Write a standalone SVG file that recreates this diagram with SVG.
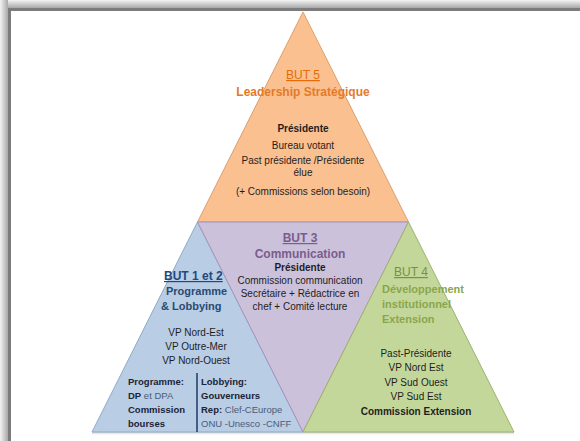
<svg xmlns="http://www.w3.org/2000/svg" width="580" height="441" viewBox="0 0 580 441">
<defs>
<linearGradient id="gTop" x1="0" y1="0" x2="0" y2="1"><stop offset="0" stop-color="#f4f4f4"/><stop offset="1" stop-color="#a8a8a8"/></linearGradient>
<linearGradient id="gLeft" x1="0" y1="0" x2="1" y2="0"><stop offset="0" stop-color="#f4f4f4"/><stop offset="1" stop-color="#a8a8a8"/></linearGradient>
<linearGradient id="gShadow" x1="0" y1="0" x2="0" y2="1"><stop offset="0" stop-color="#c8c8c8"/><stop offset="1" stop-color="#ffffff" stop-opacity="0"/></linearGradient>
</defs>
<style>
text{font-family:"Liberation Sans",Arial,sans-serif;text-anchor:middle}
.b{font-weight:bold}
.h{font-size:12px}
.t{font-size:10px;fill:#1e1e1e}
.s{font-size:9.5px}
.u{text-decoration:underline}
.st{text-anchor:start}
.tri{stroke-width:1;stroke-linejoin:round}
</style>
<rect x="0" y="0" width="580" height="441" fill="#ffffff"/>
<rect x="0" y="0" width="580" height="8" fill="url(#gTop)"/>
<rect x="0" y="0" width="8" height="441" fill="url(#gLeft)"/>
<rect x="8" y="8" width="572" height="3" fill="#7c7c7c"/>
<rect x="8" y="8" width="3" height="433" fill="#7c7c7c"/>
<rect x="92" y="432" width="422" height="4" fill="url(#gShadow)"/>

<g id="but5">
<polygon class="tri" points="303,12 197.5,222 408.5,222" fill="#FAC090" stroke="#D9A070"/>
<text x="303" y="79" class="h u" fill="#E46C0A">BUT 5</text>
<text x="303" y="96" class="h b" fill="#E47A28">Leadership Stratégique</text>
<text x="303" y="132" class="t b">Présidente</text>
<text x="303" y="149" class="t">Bureau votant</text>
<text x="303" y="164" class="t">Past présidente /Présidente</text>
<text x="303" y="176" class="t">élue</text>
<text x="303" y="195" class="t">(+ Commissions selon besoin)</text>
</g>

<g id="but12">
<polygon class="tri" points="197.5,222 92,432 303,432" fill="#B9CDE5" stroke="#8FA9C8"/>
<text x="164" y="280" class="h b u st" fill="#1F497D">BUT 1 et 2</text>
<text x="166" y="295" class="b st" font-size="11" fill="#2A4A72">Programme</text>
<text x="161" y="310" class="b st" font-size="11" fill="#2A4A72">&amp; Lobbying</text>
<text x="196" y="336" class="t" fill="#1F2D45">VP Nord-Est</text>
<text x="196" y="350" class="t" fill="#1F2D45">VP Outre-Mer</text>
<text x="196" y="364" class="t" fill="#1F2D45">VP Nord-Ouest</text>
<line x1="197" y1="373" x2="197" y2="432" stroke="#1F3864" stroke-width="1.5"/>
<text x="128" y="385" class="s b st" fill="#1A2436">Programme:</text>
<text x="128" y="399" class="s st" fill="#4A5C78"><tspan class="b" fill="#1A2436">DP</tspan> et DPA</text>
<text x="128" y="413" class="s b st" fill="#1A2436">Commission</text>
<text x="128" y="427" class="s b st" fill="#1A2436">bourses</text>
<text x="201" y="385" class="s b st" fill="#1A2436">Lobbying:</text>
<text x="201" y="399" class="s b st" fill="#1A2436">Gouverneurs</text>
<text x="201" y="413" class="s st" fill="#4A5C78"><tspan class="b" fill="#1A2436">Rep:</tspan> Clef-CEurope</text>
<text x="201" y="427" class="s st" fill="#4A5C78">ONU -Unesco -CNFF</text>
</g>

<g id="but3">
<polygon class="tri" points="197.5,222 408.5,222 303,432" fill="#CCC1DA" stroke="#A593BC"/>
<text x="300" y="242" class="h b u" fill="#7A5C8E">BUT 3</text>
<text x="300" y="258" class="h b" fill="#7A5C8E">Communication</text>
<text x="300" y="271" class="t b">Présidente</text>
<text x="300" y="284" class="t">Commission communication</text>
<text x="300" y="297" class="t">Secrétaire + Rédactrice en</text>
<text x="300" y="310" class="t">chef + Comité lecture</text>
</g>

<g id="but4">
<polygon class="tri" points="408.5,222 303,432 514,432" fill="#C4D79B" stroke="#9DB36A"/>
<text x="411" y="276" class="h u" fill="#76923C">BUT 4</text>
<text x="382" y="293" class="b st" font-size="11" fill="#8AA64C">Développement</text>
<text x="382" y="308" class="b st" font-size="11" fill="#8AA64C">institutionnel</text>
<text x="382" y="323" class="b st" font-size="11" fill="#8AA64C">Extension</text>
<text x="416" y="357" class="t">Past-Présidente</text>
<text x="416" y="371" class="t">VP Nord Est</text>
<text x="416" y="386" class="t">VP Sud Ouest</text>
<text x="416" y="400" class="t">VP Sud Est</text>
<text x="416" y="415" class="t b" font-size="9.5">Commission Extension</text>
</g>

<g id="connectors"/>
</svg>
